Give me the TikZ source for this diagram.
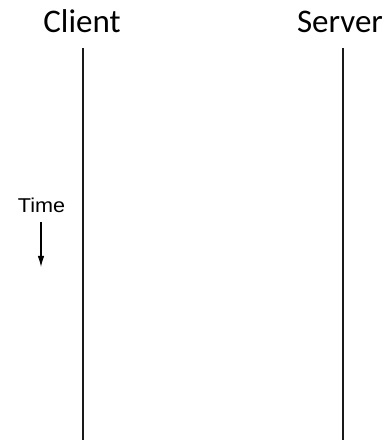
\documentclass[tikz,border=0pt]{standalone}
\usepackage{fontspec}
\usepackage{tikz}
\usetikzlibrary{positioning, arrows.meta}
\newfontfamily\labelfont{Carlito}
\newfontfamily\timefont{Liberation Sans}

\begin{document}
\begin{tikzpicture}[x=1pt, y=1pt, >={Latex[length=11pt, width=6.5pt]},
    party/.style={anchor=base, inner sep=0pt, font=\labelfont\fontsize{33}{36}\selectfont},
    lifeline/.style={line width=1.8pt, draw=black!90},
    timelabel/.style={anchor=base, inner sep=0pt, font=\timefont\fontsize{20}{24}\selectfont}]
  \useasboundingbox (0,0) rectangle (391,440);
  \node[party] (client) at (82,407) {Client};
  \node[party] (server) at (340,407) {Server};
  % lifelines run off the bottom edge
  \coordinate (clienttop) at (82.7,392);
  \coordinate (clientend) at (82.7,0);
  \coordinate (servertop) at (343.3,392);
  \coordinate (serverend) at (343.3,0);
  \draw[lifeline] (clienttop) -- (clientend);
  \draw[lifeline] (servertop) -- (serverend);
  % time axis
  \node[timelabel, xscale=1.08] (time) at (41.5,227) {Time};
  \coordinate (timeend) at (41,173);
  \draw[->, line width=1.1pt] ([yshift=-9pt]time.base -| timeend) -- (timeend);
\end{tikzpicture}
\end{document}
